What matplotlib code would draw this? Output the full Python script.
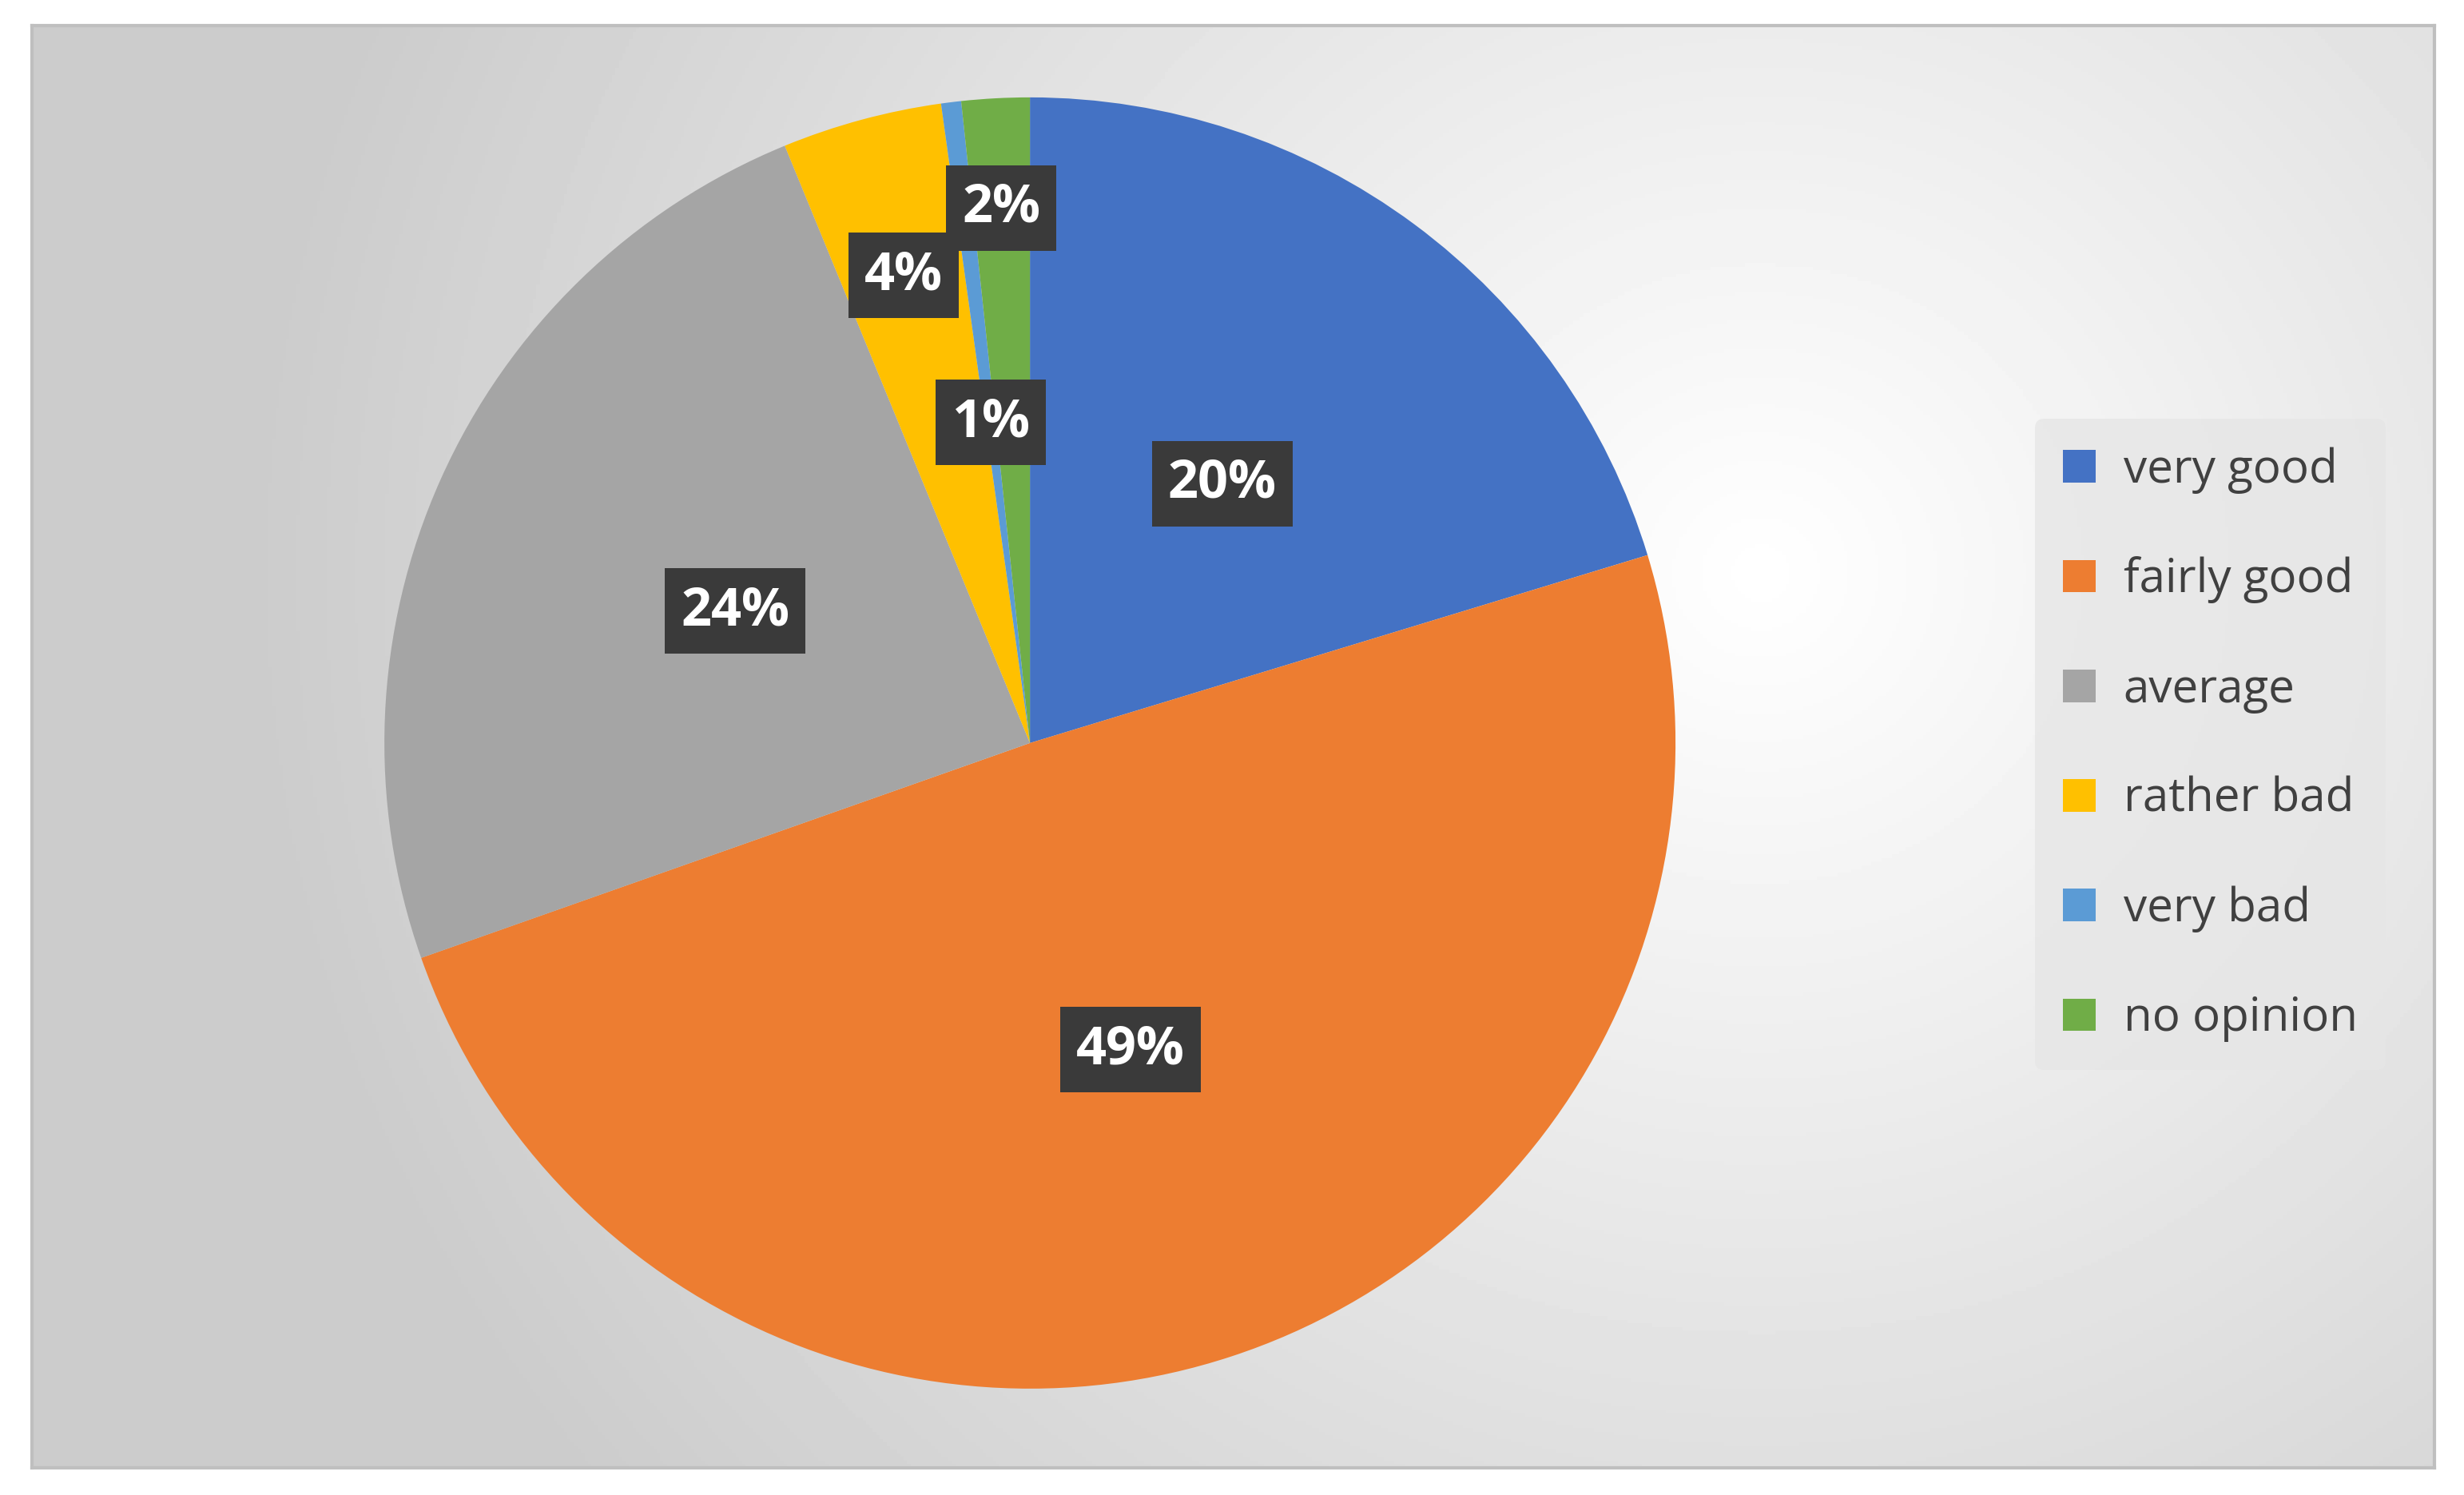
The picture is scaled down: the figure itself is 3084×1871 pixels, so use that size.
import numpy as np
import matplotlib
matplotlib.use("Agg")
import matplotlib.pyplot as plt
from matplotlib.patches import Patch

categories = ["very good", "fairly good", "average", "rather bad", "very bad", "no opinion"]
values = [20.3, 49.3, 24.2, 4.0, 0.5, 1.7]
colors = ["#4472C4", "#ED7D31", "#A5A5A5", "#FFC000", "#5B9BD5", "#70AD47"]
label_dist = [0.5, 0.5, 0.5, 0.75, 0.5, 0.83]

plt.rcParams['font.family'] = ['Open Sans', 'DejaVu Sans']
fig = plt.figure(figsize=(15.42, 9.355), dpi=200)
fig.patch.set_facecolor("white")

bg = fig.add_axes([0.013, 0.018, 0.975, 0.965])
yy, xx = np.mgrid[0:1:400j, 0:1:700j]
d = np.sqrt(((xx - 0.72) * 1.6) ** 2 + ((yy - 0.62) * 1.0) ** 2)
g = np.clip(1.0 - 0.2 * d, 0.8, 1.0)
bg.imshow(g, cmap="gray", vmin=0, vmax=1, extent=[0, 1, 0, 1], aspect="auto", origin="lower")
bg.set_xticks([]); bg.set_yticks([])
for s in bg.spines.values():
    s.set_color("#bfbfbf"); s.set_linewidth(1.5)

ax = fig.add_axes([0.156, 0.071, 0.524, 0.864])
wedges, _ = ax.pie(values, colors=colors, startangle=90, counterclock=False,
                   wedgeprops=dict(linewidth=0))
ax.set_xlim(-1, 1); ax.set_ylim(-1, 1)
ax.set_aspect("equal")
for w, v, r in zip(wedges, values, label_dist):
    th = np.deg2rad((w.theta1 + w.theta2) / 2)
    ax.text(r * np.cos(th), r * np.sin(th), f"{max(1, round(v)):d}%", ha="center", va="center",
            color="white", fontsize=24, fontweight="bold",
            bbox=dict(boxstyle="square,pad=0.3", fc="#3a3a3a", ec="none"))

handles = [Patch(facecolor=c, edgecolor="none") for c in colors]
leg = fig.legend(handles, categories, loc="center", bbox_to_anchor=(0.897, 0.502),
                 fontsize=21, frameon=True, labelspacing=1.35, handlelength=0.7,
                 handleheight=0.7, handletextpad=0.6, borderpad=0.6)
leg.get_frame().set_facecolor("#e6e6e6")
leg.get_frame().set_edgecolor("none")
leg.get_frame().set_alpha(0.8)
for t in leg.get_texts():
    t.set_color("#404040")

fig.savefig("out.png", dpi=200)
